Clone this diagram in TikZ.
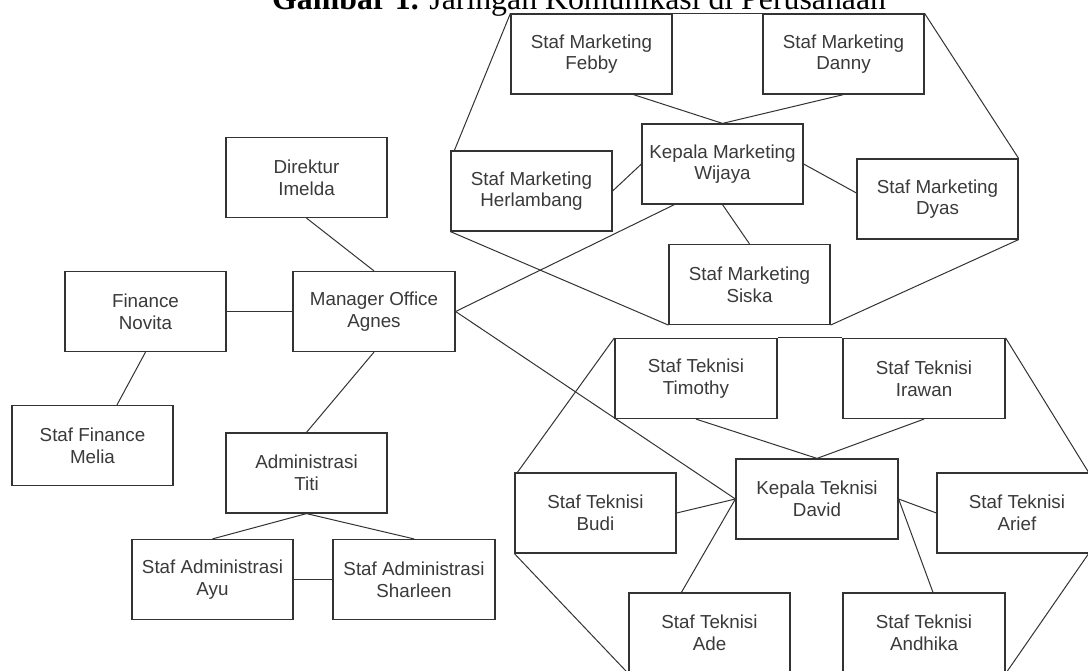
\documentclass[tikz,border=0pt]{standalone}
\usepackage{fontspec}
\setmainfont{Liberation Serif}
\newfontfamily\boxfont{Liberation Sans}
\usetikzlibrary{calc}
\definecolor{ln}{HTML}{333333}
\definecolor{tx}{HTML}{3A3A3A}
\tikzset{
  orgbox/.style={draw=ln, line width=1.2pt, rectangle, minimum width=161pt, minimum height=80pt,
    inner sep=0pt, align=center, text=tx, font=\boxfont\fontsize{18.8}{21.7}\selectfont},
  link/.style={draw=ln, line width=1pt}
}
\begin{document}
\begin{tikzpicture}[x=1pt,y=-1pt]
\useasboundingbox[fill=white] (0,0) rectangle (1088,671);
% title
\node[anchor=base west, inner sep=0pt, font=\fontsize{31.8}{36}\selectfont] (title) at (272,10)
  {\textbf{Gambar 1.} Jaringan Komunikasi di Perusahaan};
% marketing
\node[orgbox] (febby) at (591.5,54) {Staf Marketing\\Febby};
\node[orgbox] (danny) at (843.5,54) {Staf Marketing\\Danny};
\node[orgbox] (km) at (722.5,164) {Kepala Marketing\\Wijaya};
\node[orgbox] (herl) at (531.5,191) {Staf Marketing\\Herlambang};
\node[orgbox] (dyas) at (937.5,199) {Staf Marketing\\Dyas};
\node[orgbox] (siska) at (749.5,284.5) {Staf Marketing\\Siska};
% office
\node[orgbox] (direktur) at (306.5,177.5) {Direktur\\Imelda};
\node[orgbox] (finance) at (145.5,311.5) {Finance\\Novita};
\node[orgbox, minimum width=162pt] (manager) at (374,311.5) {Manager Office\\Agnes};
\node[orgbox] (melia) at (92.5,445.5) {Staf Finance\\Melia};
\node[orgbox] (admin) at (306.5,473) {Administrasi\\Titi};
\node[orgbox] (ayu) at (212.5,579.5) {Staf Administrasi\\Ayu};
\node[orgbox, minimum width=162pt] (sharleen) at (414,579.5) {Staf Administrasi\\Sharleen};
% teknisi
\node[orgbox, minimum width=162pt] (timothy) at (696,378.5) {Staf Teknisi\\Timothy};
\node[orgbox, minimum width=162pt] (irawan) at (924,378.5) {Staf Teknisi\\Irawan};
\node[orgbox, minimum width=162pt] (kt) at (817,499) {Kepala Teknisi\\David};
\node[orgbox] (budi) at (595.5,513) {Staf Teknisi\\Budi};
\node[orgbox, minimum width=160pt] (arief) at (1017,513) {Staf Teknisi\\Arief};
\node[orgbox] (ade) at (709.5,633) {Staf Teknisi\\Ade};
\node[orgbox, minimum width=162pt] (andhika) at (924,633) {Staf Teknisi\\Andhika};
% office links
\draw[link] (direktur.south) -- (manager.north);
\draw[link] (finance.east) -- (manager.west);
\draw[link] (finance.south) -- ($(melia.north)+(24.5,0)$);
\draw[link] (manager.south) -- (admin.north);
\draw[link] (admin.south) -- (ayu.north);
\draw[link] (admin.south) -- (sharleen.north);
\draw[link] (ayu.east) -- (sharleen.west);
\draw[link] (manager.east) -- ($(km.south west)+(33,0)$);
\draw[link] (manager.east) -- (kt.west);
% marketing links
\draw[link] ($(herl.north west)+(4,0)$) -- (febby.north west);
\draw[link] (febby.north east) -- (danny.north west);
\draw[link] (danny.north east) -- (dyas.north east);
\draw[link] ($(febby.south west)+(123,0)$) -- (km.north);
\draw[link] (danny.south) -- (km.north);
\draw[link] (herl.east) -- (km.west);
\draw[link] (km.east) -- ($(dyas.west)+(0,-6)$);
\draw[link] (km.south) -- (siska.north);
\draw[link] (herl.south west) -- (siska.south west);
\draw[link] (dyas.south east) -- (siska.south east);
% teknisi links
\draw[link] ($(budi.north west)+(3,0)$) -- (timothy.north west);
\draw[link] (timothy.north east) -- (irawan.north west);
\draw[link] (irawan.north east) -- ($(arief.north east)+(-9,0)$);
\draw[link] ($(arief.south east)+(-9,0)$) -- (andhika.south east);
\draw[link] (budi.south west) -- (ade.south west);
\draw[link] (timothy.south) -- (kt.north);
\draw[link] (irawan.south) -- (kt.north);
\draw[link] (budi.east) -- (kt.west);
\draw[link] ($(ade.north west)+(53,0)$) -- (kt.west);
\draw[link] (kt.east) -- (arief.west);
\draw[link] (kt.east) -- ($(andhika.north)+(9,0)$);
\end{tikzpicture}
\end{document}
